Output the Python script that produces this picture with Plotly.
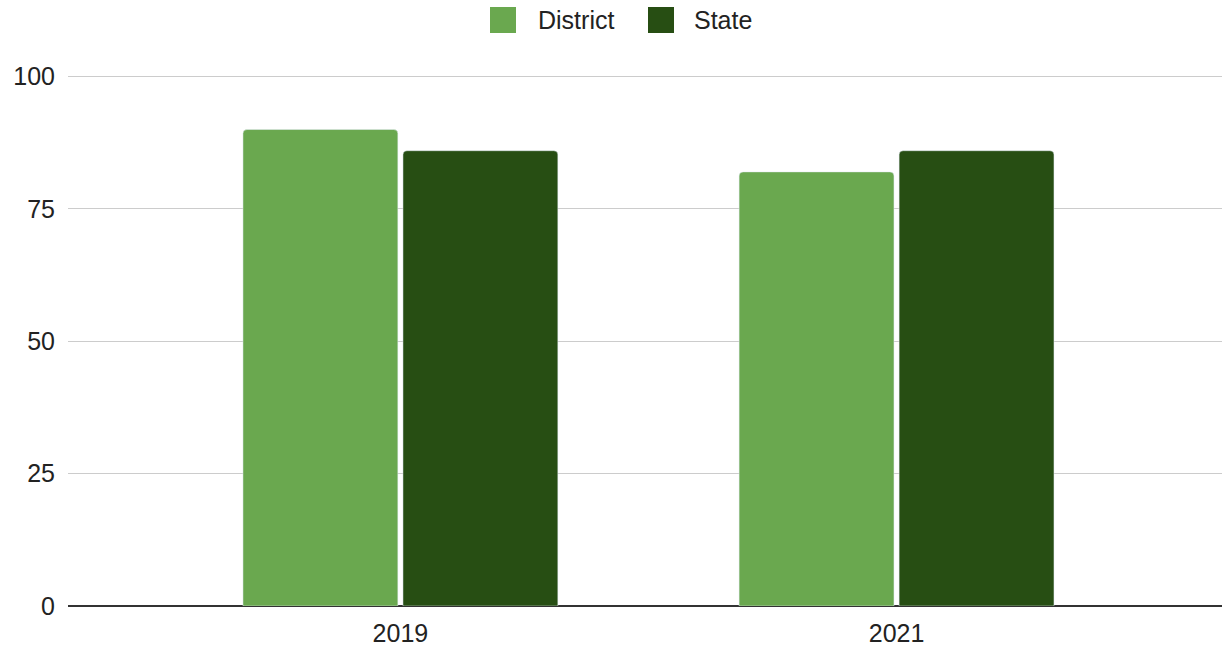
import plotly.graph_objects as go

years = ["2019", "2021"]
district = [90, 82]
state = [86, 86]
series_names = ["District", "State"]
series_colors = ["#6aa84f", "#274e13"]

fig = go.Figure()
fig.add_trace(go.Bar(name=series_names[0], x=years, y=district, marker_color=series_colors[0], showlegend=False))
fig.add_trace(go.Bar(name=series_names[1], x=years, y=state, marker_color=series_colors[1], showlegend=False))

T = 75
H = 606 - T
# custom legend (top centre)
legend_items = [(490, 536), (648, 692)]
for (sx, tx), name, col in zip(legend_items, series_names, series_colors):
    fig.add_shape(type="rect", xref="paper", yref="paper",
                  x0=(sx - 68) / 1154, x1=(sx + 26 - 68) / 1154,
                  y0=(606 - 7) / H, y1=(606 - 33) / H,
                  fillcolor=col, line=dict(width=0), layer="above")
    fig.add_annotation(text=name, xref="paper", yref="paper",
                       x=(tx - 68) / 1154, y=(606 - 20) / H,
                       xanchor="left", yanchor="middle", showarrow=False,
                       font=dict(size=25, color="#222"))

fig.update_layout(
    width=1222, height=648,
    margin=dict(l=68, r=0, t=T, b=42),
    paper_bgcolor="white", plot_bgcolor="white",
    font=dict(family="Liberation Sans, Arial, sans-serif", size=25, color="#222"),
    barmode="group", bargap=0.355, bargroupgap=0.032,
    barcornerradius=4,
    showlegend=False,
    xaxis=dict(type="category", range=[-0.67, 1.656], showline=False,
               ticks="", automargin=False, ticklabelstandoff=10,
               tickfont=dict(size=25, color="#222")),
    yaxis=dict(range=[0, 100.3], tickvals=[0, 25, 50, 75, 100],
               showgrid=True, gridcolor="#cccccc", gridwidth=1.3,
               zeroline=True, zerolinecolor="#333333", zerolinewidth=1.6,
               ticks="", automargin=False, ticklabelstandoff=12,
               tickfont=dict(size=25, color="#222")),
)
fig.write_html("out.html", config={"displayModeBar": False},
               post_script="document.body.style.margin='0';document.body.style.overflow='hidden';")
